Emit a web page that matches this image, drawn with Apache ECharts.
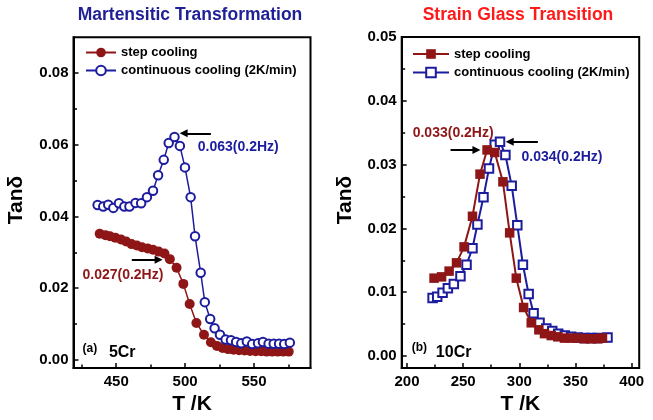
<!DOCTYPE html>
<html><head><meta charset="utf-8">
<script src="https://cdn.jsdelivr.net/npm/echarts@6/dist/echarts.min.js"></script>
<style>html,body{margin:0;padding:0;background:#fff;}
#a{position:absolute;left:0;top:0;width:330px;height:420px;}
#b{position:absolute;left:330px;top:0;width:323px;height:420px;}</style>
</head><body><div id="a"></div><div id="b"></div>
<script>
// ---------- data ----------
// Panel (a) 5Cr : Martensitic Transformation
const tStepA = [438.0,442.2,445.5,449.3,453.5,457.2,461.1,465.0,468.7,472.8,476.7,480.8,485.0,488.9,493.8,498.7,503.3,508.2,513.7,518.7,523.1,527.2,531.2,535.2,539.2,543.2,547.2,551.2,555.2,559.2,563.2,567.2,571.2,575.2];
const vStepA = [0.0352,0.0348,0.0345,0.0341,0.0336,0.0330,0.0323,0.0319,0.0314,0.0311,0.0307,0.0302,0.0297,0.0281,0.0257,0.0212,0.0156,0.0103,0.0070,0.0049,0.0039,0.0033,0.0030,0.0028,0.0027,0.0026,0.0025,0.0024,0.0024,0.0023,0.0023,0.0023,0.0023,0.0023];
const tContA = [436.5,440.6,444.2,447.9,452.0,455.9,459.6,464.0,468.1,472.3,476.7,480.4,484.5,488.1,492.3,496.2,499.9,504.0,507.2,511.3,514.3,518.2,521.4,525.3,529.4,533.3,537.0,540.8,544.8,548.7,552.9,556.5,560.6,564.3,568.2,571.9,576.0];
const vContA = [0.0432,0.0428,0.0433,0.0424,0.0437,0.0428,0.0428,0.0438,0.0437,0.0454,0.0472,0.0515,0.0558,0.0605,0.0622,0.0597,0.0537,0.0454,0.0345,0.0243,0.0161,0.0114,0.0088,0.0070,0.0057,0.0055,0.0050,0.0046,0.0051,0.0044,0.0046,0.0050,0.0045,0.0045,0.0045,0.0044,0.0048];
// Panel (b) 10Cr : Strain Glass Transition
const tStepB = [224.1,230.8,237.5,244.1,250.8,258.3,265.0,271.3,278.1,285.4,291.4,297.3,303.8,310.6,317.4,322.4,328.4,334.3,340.2,346.1,352.0,357.9,363.9,369.7,374.0];
const vStepB = [0.0122,0.0124,0.0133,0.0146,0.0171,0.0219,0.0285,0.0323,0.0319,0.0273,0.0193,0.0122,0.0076,0.0052,0.0041,0.0035,0.0032,0.0030,0.0028,0.0028,0.0028,0.0027,0.0027,0.0027,0.0028];
const tContB = [222.8,226.9,231.7,236.4,241.7,247.6,253.0,258.3,262.7,268.1,273.0,278.1,282.8,287.6,293.2,298.2,303.2,308.3,312.7,318.0,324.0,329.3,334.6,340.5,346.1,352.0,357.9,363.9,369.7,378.5];
const vContB = [0.0091,0.0093,0.0099,0.0106,0.0113,0.0125,0.0143,0.0169,0.0206,0.0249,0.0294,0.0331,0.0336,0.0315,0.0267,0.0205,0.0143,0.0097,0.0067,0.0052,0.0043,0.0039,0.0035,0.0032,0.0030,0.0029,0.0028,0.0028,0.0028,0.0029];

// ticks
const xMajorA = [450,500,550], xMinorA = [425,475,525,575];
const yMajorA = [0,0.02,0.04,0.06,0.08], yMinorA = [0.01,0.03,0.05,0.07];
const xMajorB = [200,250,300,350,400], xMinorB = [225,275,325,375];
const yMajorB = [0,0.01,0.02,0.03,0.04,0.05], yMinorB = [0.005,0.015,0.025,0.035,0.045];

const seriesNames = ['step cooling','continuous cooling (2K/min)'];
const titles = ['Martensitic Transformation','Strain Glass Transition'];
const yName = 'Tan\u03b4';
const xName = 'T /K';

const RED = '#8e1616', BLUE = '#1c1c9e';
const FF = '"Liberation Sans", Arial, Helvetica, sans-serif';
const zip = (a,b) => a.map((v,i)=>[v,b[i]]);

function axesX(min,max,major,minor){
  return [
    {type:'value',min,max,position:'bottom',
     axisLine:{show:true,onZero:false,lineStyle:{color:'#000',width:2}},
     axisTick:{show:true,inside:true,length:5,lineStyle:{color:'#000',width:1.5},customValues:major},
     axisLabel:{customValues:major,color:'#000',fontWeight:'bold',fontSize:15,fontFamily:FF,margin:6},
     splitLine:{show:false},
     name:xName,nameLocation:'middle',nameGap:19,
     nameTextStyle:{fontWeight:'bold',fontSize:21,color:'#000',fontFamily:FF}},
    {type:'value',min,max,position:'bottom',
     axisLine:{show:false,onZero:false},
     axisTick:{show:true,inside:true,length:3.5,lineStyle:{color:'#000',width:1.5},customValues:minor},
     axisLabel:{show:false},splitLine:{show:false}}
  ];
}
function axesY(min,max,major,minor,dec){
  return [
    {type:'value',min,max,position:'left',
     axisLine:{show:true,onZero:false,lineStyle:{color:'#000',width:2}},
     axisTick:{show:true,inside:true,length:5,lineStyle:{color:'#000',width:1.5},customValues:major},
     axisLabel:{customValues:major,formatter:v=>v.toFixed(dec),color:'#000',fontWeight:'bold',fontSize:15,fontFamily:FF,margin:5},
     splitLine:{show:false}},
    {type:'value',min,max,position:'left',
     axisLine:{show:false,onZero:false},
     axisTick:{show:true,inside:true,length:3.5,lineStyle:{color:'#000',width:1.5},customValues:minor},
     axisLabel:{show:false},splitLine:{show:false}}
  ];
}
function arrowLine(from,to){
  return {silent:true,symbol:['none','triangle'],symbolSize:8,
    lineStyle:{color:'#000',width:2,type:'solid'},label:{show:false},
    animation:false,data:[[{coord:from},{coord:to}]]};
}

function build(el, cfg){
  const chart = echarts.init(document.getElementById(el), null, {renderer:'canvas'});
  chart.setOption({
    animation:false,
    textStyle:{fontFamily:FF},
    grid:{left:cfg.grid[0],top:cfg.grid[1],width:cfg.grid[2],height:cfg.grid[3],show:true,borderColor:'#000',borderWidth:2,containLabel:false},
    legend:{orient:'vertical',left:cfg.legend[0],top:cfg.legend[1],padding:0,itemWidth:cfg.legend[2],itemHeight:12,itemGap:cfg.legend[3],
      data:seriesNames,selectedMode:false,
      textStyle:{fontWeight:'bold',fontSize:13,color:'#000',fontFamily:FF}},
    xAxis:axesX(cfg.x[0],cfg.x[1],cfg.xMajor,cfg.xMinor),
    yAxis:axesY(cfg.y[0],cfg.y[1],cfg.yMajor,cfg.yMinor,2),
    series:cfg.series
  });
  const P = (x,y)=>chart.convertToPixel({xAxisIndex:0,yAxisIndex:0},[x,y]);
  const g = [];
  g.push({type:'text',x:cfg.titleX,y:15,style:{text:cfg.title,fill:cfg.titleColor,font:'bold 17.5px '+FF,align:'center',verticalAlign:'middle'}});
  g.push({type:'text',x:cfg.yNameX,y:200,rotation:Math.PI/2,style:{text:yName,fill:'#000',font:'bold 21px '+FF,align:'center',verticalAlign:'middle'}});
  cfg.notes.forEach(n=>{
    const p = P(n.at[0],n.at[1]);
    g.push({type:'text',x:p[0],y:p[1],style:{text:n.text,fill:n.color,font:'bold '+n.size+'px '+FF,align:n.align||'left',verticalAlign:'middle'}});
  });
  chart.setOption({graphic:g});
}

build('a',{
  grid:[73.5,37.3,237,345.4],
  legend:[85,46,30,5],
  x:[419,591], xMajor:xMajorA, xMinor:xMinorA,
  y:[-0.0023,0.09], yMajor:yMajorA, yMinor:yMinorA,
  title:titles[0], titleX:190, titleColor:'#1f1f96', yNameX:16,
  series:[
    {name:seriesNames[0],type:'line',data:zip(tStepA,vStepA),symbol:'circle',symbolSize:10,
     itemStyle:{color:RED},lineStyle:{color:RED,width:1.5},z:2,
     markLine:arrowLine([461.3,0.0279],[480.8,0.0279])},
    {name:seriesNames[1],type:'line',data:zip(tContA,vContA),symbol:'emptyCircle',symbolSize:8.5,
     itemStyle:{color:BLUE,borderWidth:2},lineStyle:{color:BLUE,width:1.5},z:3,
     markLine:arrowLine([518.7,0.0632],[498.9,0.0632])}
  ],
  notes:[
    {text:'0.063(0.2Hz)',at:[509.2,0.0593],color:BLUE,size:14},
    {text:'0.027(0.2Hz)',at:[425.5,0.0236],color:RED,size:14},
    {text:'(a)',at:[425.5,0.0032],color:'#000',size:12},
    {text:'5Cr',at:[444.7,0.0019],color:'#000',size:16}
  ]
});

build('b',{
  grid:[71.7,37,237.5,346.3],
  legend:[82,47.5,36,5.5],
  x:[195.3,406.7], xMajor:xMajorB, xMinor:xMinorB,
  y:[-0.0019,0.05], yMajor:yMajorB, yMinor:yMinorB,
  title:titles[1], titleX:188, titleColor:'#ff1a1a', yNameX:15,
  series:[
    {name:seriesNames[0],type:'line',data:zip(tStepB,vStepB),symbol:'rect',symbolSize:9.5,
     itemStyle:{color:RED},lineStyle:{color:RED,width:2},z:3,
     markLine:arrowLine([238.8,0.0323],[261.8,0.0323])},
    {name:seriesNames[1],type:'line',data:zip(tContB,vContB),symbol:'emptyRect',symbolSize:8.5,
     itemStyle:{color:BLUE,borderWidth:1.8},lineStyle:{color:BLUE,width:2},z:2,
     markLine:arrowLine([316.5,0.0336],[291.4,0.0336])}
  ],
  notes:[
    {text:'0.033(0.2Hz)',at:[241.1,0.0349],color:RED,size:14,align:'center'},
    {text:'0.034(0.2Hz)',at:[338.0,0.0311],color:BLUE,size:14,align:'center'},
    {text:'(b)',at:[204.2,0.0013],color:'#000',size:12},
    {text:'10Cr',at:[225.7,0.00055],color:'#000',size:16}
  ]
});
</script></body></html>
